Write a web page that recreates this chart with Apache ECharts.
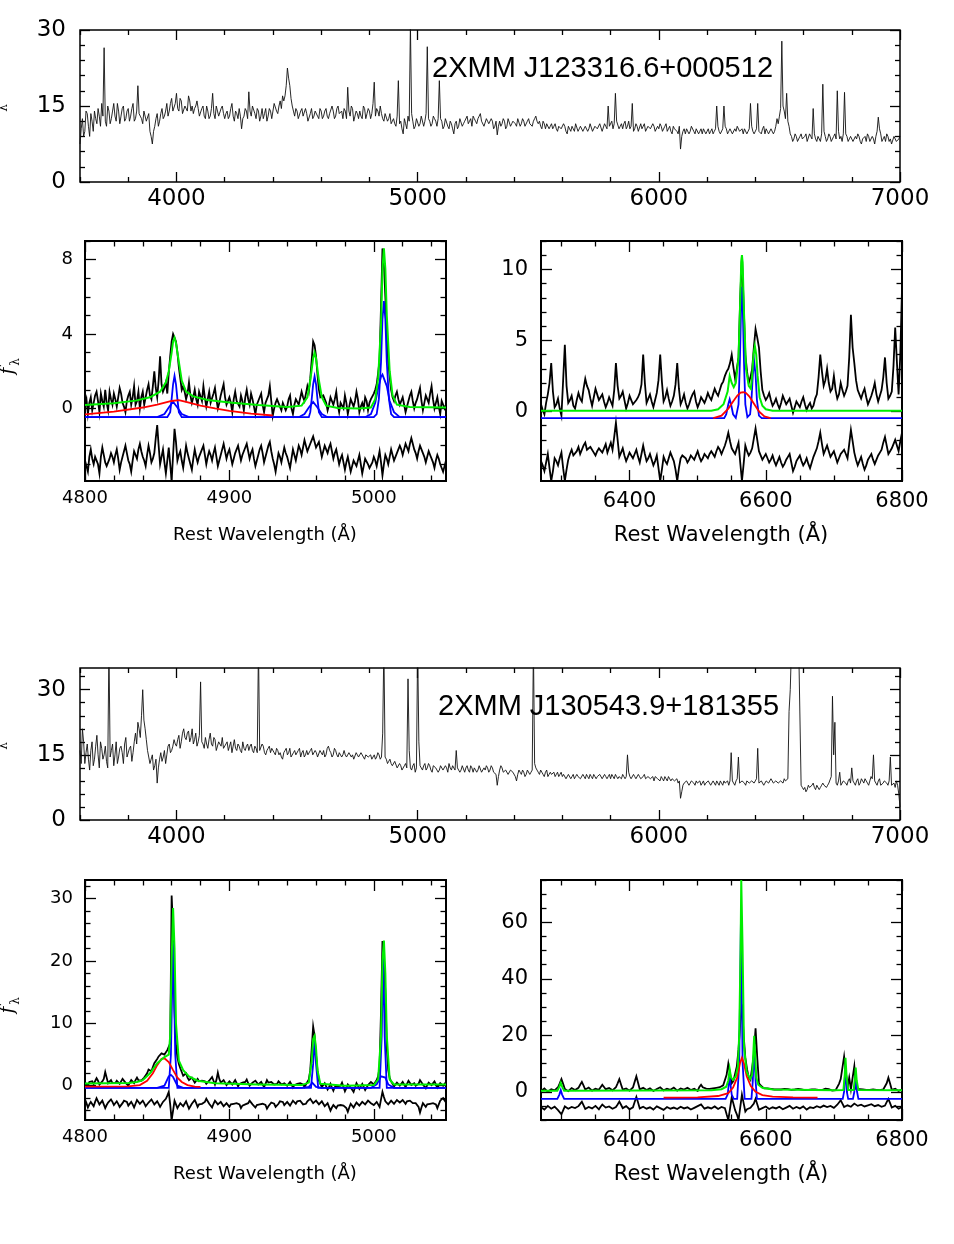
<!DOCTYPE html>
<html><head><meta charset="utf-8">
<script src="https://cdn.jsdelivr.net/npm/echarts@6/dist/echarts.min.js"></script>
<style>html,body{margin:0;padding:0;background:#fff}#c{width:954px;height:1244px}</style>
</head><body><div id="c"></div>
<script>
// ---------------- DATA ----------------
const title1 = '2XMM J123316.6+000512';
const title2 = '2XMM J130543.9+181355';
const xTitle = 'Rest Wavelength (Å)';

const wideXMajor = [4000, 5000, 6000, 7000];
const wideYMajor1 = [0, 15, 30];
const wideYMajor2 = [0, 15, 30];
const hbXMajor = [4800, 4900, 5000];
const hbYMajor1 = [0, 4, 8];
const hbYMajor2 = [0, 10, 20, 30];
const haXMajor = [6400, 6600, 6800];
const haYMajor1 = [0, 5, 10];
const haYMajor2 = [0, 20, 40, 60];

// full spectra: values at 3600,3610,...,7000 and at 3605,3615,...,6995
const WIDE_START = 3600, WIDE_STEP = 10;
const wideFlux1 = [
 7.5,12.5,10,13.5,9,12,14,11.5,13,15.5,
 26.5,11,14,12.5,15.5,12,14,13,15,12.5,
 14.5,13,15.5,12.5,19,13,11.5,14,12,10,
 7.5,11,13.5,12,14.5,13,15.5,14,16.5,14,
 17.5,14,16,13.5,15,17,14,13.5,15,14.5,
 13,15,12.5,14,13,17.5,12.5,14,13,15,
 12.5,14,13,15.5,12,13.5,14.5,10.5,13,14,
 17.8,13,15,12.5,14,13,12.5,14.5,13,14,
 14,15.5,13.5,16,17,17,22.5,19,15,13,
 14,12.5,14.5,13,13.5,12,14.5,13,14,12.5,
 14,13,14.5,12.5,13.5,14,13,15,13.5,12.5,
 14,18.7,13,14.5,13,13.5,14,12.5,14.5,13.5,
 14,13.5,19.7,14.5,13,13.5,12,13.5,12.5,11.5,
 12.5,11,20,12,9.5,11.5,13,31,12,11,
 12.5,11.5,13,12,26.7,12,11.5,12.5,11,20,
 12,11,12.5,10.5,11.5,9.5,12,11,12.5,11.5,
 12,11.5,12.5,13,12,12.5,13.5,12,11,12,
 11.5,12,11,9.3,12,11.5,12,11,12.5,11.5,
 12,11,12.5,11.5,12,11,12.5,11.5,12,13,
 11.5,11,12,10.5,11.5,11,10.5,11.5,10,11,
 10.5,11,9.5,10.5,11,10,11.5,10.5,11,10.5,
 11,10.5,11.5,10,11,10.5,11.5,10,11,15,
 11,10.5,17.5,12,11,10.5,12,11,10.5,15.5,
 10.5,11,10,10.5,11.5,10,11,10.5,11,10,
 10.5,11,10,11.5,10.5,10,11,10.5,9.5,6.5,
 10,9.5,10.5,10,11,9.5,10.5,10,9.5,10.5,
 10,9.5,10.5,10,15,10,9.5,15,10.5,10,
 10.5,9.5,10,11,10,9.5,10.5,10,15.5,10,
 9.5,15.5,10,10.5,9.5,10,9.5,10.5,10,12.5,
 13,27.8,14,17.5,11,9,8.5,9,8,9.5,
 8.5,9.5,8,9,14.5,8.5,9,8,19.3,9,
 8.5,9,8,9.5,18,8.5,8,17.7,9,8.5,
 9,8,8.5,9,7.5,8.5,8,9,8,8.5,
 9,12.8,9.5,8.5,8,9,8.5,7.5,8.5,8,
 9];
const wideMid1 = [
 10.5,9,14,11,13.5,10,12.5,14.5,11,13,
 12,15,11.5,14,13,15.5,11.5,14.5,12,14,
 12,14.5,12,14,13.5,12.5,14,12,13.5,9,
 10,12.5,11,13.5,12.5,14,13,15.5,14,15.5,
 14.5,16.5,13.5,15,14,16,15,14.5,16,13,
 14.5,13,15,12.5,14.5,13.5,15,13,14.5,13.5,
 13.5,12.5,14.5,13,14,12.5,13,12.5,14.5,12.5,
 14,15,13.5,14.5,12,14.5,13.5,12,14.5,12.5,
 15.5,14,15,14.5,16,19,20.5,16.5,14,14.5,
 12.5,14,13,14.5,12,13.5,12.5,14,13,14.5,
 12.5,14,13,13.5,15,12.5,14.5,13.5,14,14.5,
 12.5,14,15,12,14,12.5,13,15,12.5,14.5,
 12.5,15.5,13,14,15,12.5,13.5,12,13.5,12,
 11.5,13,11.5,10.5,12.5,10.5,12,13.5,10.5,12.5,
 11,13,11,13.5,12.5,11,13,12,12.5,12.5,
 10.5,12.5,11,12,10.5,11.5,10.5,12.5,11,12,
 13,12,11,12.5,11.5,13,12,11,12.5,11.5,
 12.5,10.5,12,11,11,12.5,10.5,12.5,11,12,
 11.5,12.5,11,12.5,11,12,11.5,11,12.5,12,
 12,10.5,11.5,11.5,10.5,11.5,11,10.5,11,10.5,
 11.5,10,11,10,10.5,11.5,10,11,10,11,
 10,11.5,10,11,10.5,11.5,10,11.5,10.5,11,
 12,11.5,12,10.5,11.5,11.5,10.5,12,11,10,
 11.5,10,11.5,11,10,11,10.5,11.5,10,11,
 11.5,10,11,10,11,9.5,10.5,10,11,9,
 10.5,10.5,9.5,11,10,10.5,9.5,10.5,10.5,9.5,
 10.5,10,9.5,10.5,11,9.5,10.5,11,9.5,10.5,
 9.5,10.5,11,10,10.5,10.5,9.5,10.5,11,9.5,
 10.5,10,9.5,11,10.5,9.5,10.5,9.5,11,11.5,
 14.5,15,12.5,12,9.5,8,9.5,8,9,8.5,
 9,8,9.5,8.5,9.5,8,8.5,9.5,10,8,
 9.5,8,9,8.5,10,9,9.5,9.5,8,9,
 8,9,9.5,8,8.5,9,9.5,8,9,7.5,
 10,10.5,8,9,9.5,8,7.5,9,8,8.5];
const wideFlux2 = [
 16,21,13,17.5,11.5,18,14,19.5,12,16.5,
 15,13.5,40,16,12.5,18,14.5,17,13,19,
 14.5,17,15.5,20,22.5,19,30,21,16,13,
 15,12.5,8.5,14,13.5,16,15,17.5,16,18.5,
 17,19.5,18,21,18.5,20.5,19,17.5,20,18,
 31.8,17.5,19,16.5,20,17,18.5,16,17.5,19,
 16.5,18,17,15.5,18.5,16,17,15.5,16.5,17,
 16,17.5,15.5,16.5,40,16,17,15,16.5,15.5,
 16.5,15,16,15.5,14,16,15,16.5,14.5,16,
 15,16.5,15.5,14.5,16,15,16.5,15,15.5,14.5,
 15.5,16,15,17,15.5,15,16,14.5,15.5,15,
 15,14.5,15.5,15,14,15,14.5,15.5,14,15,
 14.5,14,15,14.5,15,14.5,40,14,13.5,13,
 12.5,13.5,12,12.5,11.5,13,32.5,12,12.5,11,
 40,12.5,11.5,13,12,12.5,11,12.5,12,11.5,
 12.5,11.5,12,13,11.5,12.5,16,12,11.5,12.5,
 12,11.5,12.5,11,12,11.5,12.5,11,11.5,12,
 11.5,12,11,8,11.5,12,11,11.5,10.5,11.5,
 11,9,11.5,10.5,11,10.5,11.5,11,40,12,
 11,11.5,10.5,11,10,11,10.5,10,11,10.5,
 10,10.5,9.5,10.5,10,9.5,10.5,10,9.5,10,
 10.5,9.5,10,10.5,9.5,10,10.5,9.5,10,10,
 9.5,10,10.5,9.5,10,10.5,9.5,15,10,9.5,
 10,9.5,10,9.5,10.5,9.5,10,9.5,9,10,
 9.5,10,9,9.5,10,9,9.5,9,8.5,5,
 8,8.5,9,8.5,9,8,8.5,9,8.5,8,
 8.5,9,8,8.5,9,8,8.5,9,8.5,8,
 15.5,8.5,9,14.5,8.5,9,8,9,8.5,9,
 9,16.5,8.5,9,8.5,9,8.5,9,8.5,9,
 8.5,9,9.5,9,25,40,40,40,40,8,
 7,6.5,8,7.5,8.5,7,8,7.5,8.5,8,
 8,8.5,28.5,22.5,8,11,8.5,9,8,9.5,
 12,8.5,9,8,9.5,8.5,9,8,10,15,
 8.5,9,8,8.5,9,8,14.5,8,7.5,8,
 3];
const wideMid2 = [
 13,18,15.5,14,16,12.5,17,15,18,14,
 17,12,14.5,17.5,15,13,16.5,15.5,17.5,14.5,
 16.5,13.5,18,17.5,21,24,23,18.5,14.5,14,
 11.5,14,12,15.5,14.5,13,17,15.5,17,17.5,
 18.5,16.5,20,19,20,18,21,18.5,17,19.5,
 18,16.5,17.5,18.5,17.5,19,16,18,17,16.5,
 17.5,16,18,17,16.5,17.5,16,18,16,17.5,
 17,16,17,15.5,16,17.5,15.5,16,17,16.5,
 15.5,16.5,15,14.5,15.5,16.5,15.5,14.5,15.5,15,
 16,14.5,16,15,15,16,15,16,14.5,16,
 15,14.5,16.5,16,14.5,16.5,15,15.5,14.5,16,
 14.5,15.5,14.5,14,15.5,14.5,15.5,14.5,15,14.5,
 15,14.5,14,15.5,14,20,14.5,13,14,12.5,
 13.5,12,13,11.5,12.5,12,16,11.5,13,12,
 18,12,12.5,11.5,13,11.5,12.5,12,11,12.5,
 11.5,12.5,11,12,12.5,11.5,12,11,12.5,11,
 12.5,11,12,12,11,12.5,11,12,12.5,11,
 12.5,11,10.5,10,12.5,11,11.5,10.5,11.5,11,
 10,10.5,11,11.5,10,11.5,10.5,11.5,13,11.5,
 10.5,11,10,11.5,10.5,10.5,11,10.5,10,11,
 10.5,9.5,10.5,9.5,10.5,10,10,9.5,10.5,9.5,
 10,10.5,9.5,10,10,10.5,9.5,10.5,9.5,10.5,
 10.5,9.5,10,10,9.5,10,10,11,9.5,10.5,
 9.5,10.5,9.5,10,9.5,10,9.5,10,10,9.5,
 9,9.5,10,9,9.5,9.5,9,9.5,9,6.5,
 8.5,9,8,9,8.5,9,8.5,8,9,8.5,
 9,8,9,8,8.5,9,8,8.5,9,9,
 9,8,9.5,8.5,9,8.5,9,8.5,9,8.5,
 9.5,8.5,9,8,9,8.5,9.5,8.5,9,8.5,
 9,8.5,9,9.5,30,40,40,40,40,7.5,
 7.5,7,7.5,8,7.5,8,7,8,8,7.5,
 8.5,10,15,8.5,9,8,9,8.5,9,8.5,
 9,8,9.5,8.5,9,9.5,8.5,9,9.5,9,
 8,9.5,8,9,8.5,9,8,8.5,9,6];

// H-beta windows: values at 4800,4802,...,5050 and 4801,4803,...,5049
const HB_START = 4800, HB_STEP = 2;
const hbFlux1 = [
 0.2,-0.3,0.6,0.0,0.9,-0.2,0.4,1.0,-0.1,0.5,
 0.8,0.1,1.1,0.3,-0.2,0.7,0.2,1.2,0.4,0.0,
 0.9,0.3,1.3,0.5,2.0,0.6,2.8,0.9,1.4,1.9,
 3.6,4.1,3.0,1.6,1.2,0.5,1.4,0.3,1.0,0.2,
 0.8,1.2,0.1,0.9,0.4,1.1,0.0,0.7,1.3,0.2,
 0.6,-0.2,0.9,0.3,0.7,-0.1,1.0,0.2,0.5,-0.3,
 0.4,0.8,-0.2,0.5,1.2,-0.4,0.3,0.6,-0.1,0.4,
 0.1,0.7,-0.3,0.5,0.2,0.9,0.4,1.2,1.6,3.6,
 2.8,1.0,0.5,0.8,-0.1,0.6,0.2,0.9,-0.2,0.4,
 0.7,-0.3,0.5,0.1,0.9,-0.2,0.3,0.6,-0.1,0.5,
 0.8,1.3,2.6,8.6,6.0,2.5,1.0,0.4,0.9,0.2,
 0.6,-0.2,0.4,0.9,0.0,0.5,1.1,-0.1,0.7,0.3,
 1.2,0.0,0.6,-0.3,0.5,0.2];
const hbMid1 = [
 0.5,0.3,-0.1,0.7,0.4,0.8,0.1,0.3,0.9,0.2,
 0.5,0.6,0.8,0.1,0.4,0.9,0.6,0.2,0.9,0.6,
 0.2,1.0,0.7,1.2,1.1,1.5,1.3,1.1,0.8,2.8,
 4.0,3.6,2.2,1.0,0.9,0.8,0.7,0.6,0.5,0.9,
 0.4,0.6,0.5,0.3,0.8,0.5,0.3,1.0,0.6,0.4,
 0.3,0.5,0.4,0.1,0.4,0.6,0.5,0.8,0.1,0.2,
 0.6,0.2,0.3,0.7,0.4,0.0,0.5,0.1,0.3,-0.1,
 0.5,0.0,0.2,0.6,0.3,0.6,0.8,0.9,2.6,3.4,
 1.8,0.6,0.7,0.3,0.2,0.5,0.5,0.2,0.3,0.0,
 0.3,0.1,0.4,0.4,0.5,0.1,0.0,0.4,0.3,0.6,
 1.0,1.9,5.5,7.8,4.0,1.7,0.6,0.7,0.5,0.4,
 0.2,0.1,0.7,0.4,0.3,0.8,0.4,0.3,0.5,0.8,
 0.5,0.3,0.1,0.4,0.0];
const hbResid1 = [
 -2.8,-3.4,-2.2,-3.0,-2.5,-3.5,-2.1,-2.9,-3.2,-2.4,
 -2.9,-2.2,-3.3,-2.6,-2.0,-2.8,-3.4,-2.3,-2.7,-1.9,
 -2.6,-3.1,-2.0,-2.9,-2.4,-0.9,-3.0,-2.2,-3.5,-2.1,
 -3.9,-1.1,-2.8,-2.3,-3.2,-2.0,-2.7,-3.3,-2.2,-2.9,
 -2.4,-2.0,-3.0,-2.3,-2.8,-2.1,-3.1,-2.5,-1.9,-2.7,
 -2.2,-3.0,-2.4,-2.0,-2.8,-2.3,-1.9,-2.7,-2.2,-3.1,
 -2.5,-2.0,-2.9,-2.3,-1.8,-2.7,-3.4,-2.4,-2.9,-2.1,
 -2.6,-3.2,-2.2,-2.8,-2.0,-2.5,-1.7,-2.3,-1.9,-1.5,
 -2.1,-1.8,-2.6,-2.0,-2.4,-1.9,-2.7,-2.2,-3.0,-2.5,
 -3.3,-2.6,-3.4,-2.8,-3.1,-2.5,-3.5,-2.7,-3.0,-3.3,
 -2.6,-3.1,-2.3,-3.6,-2.5,-3.0,-2.2,-2.8,-2.4,-2.0,
 -2.5,-1.9,-2.3,-1.6,-2.2,-2.7,-2.0,-2.4,-2.9,-2.3,
 -2.7,-3.2,-2.5,-3.0,-3.4,-2.8];
const hbResMid1 = [
 -3.1,-2.6,-2.7,-2.6,-3.0,-2.6,-2.5,-3.1,-2.7,-2.6,
 -2.5,-2.7,-2.9,-2.3,-2.4,-3.0,-2.8,-2.5,-2.2,-2.3,
 -2.8,-2.5,-2.4,-2.7,-1.6,-2.0,-2.6,-2.9,-2.8,-3.0,
 -2.5,-1.8,-2.5,-2.8,-2.6,-2.4,-3.0,-2.7,-2.6,-2.6,
 -2.2,-2.5,-2.6,-2.5,-2.4,-2.6,-2.8,-2.2,-2.3,-2.4,
 -2.6,-2.7,-2.2,-2.4,-2.5,-2.1,-2.3,-2.4,-2.7,-2.8,
 -2.2,-2.4,-2.6,-2.0,-2.3,-3.0,-2.9,-2.6,-2.5,-2.4,
 -2.9,-2.7,-2.5,-2.4,-2.2,-2.1,-2.0,-2.1,-1.7,-1.8,
 -2.0,-2.2,-2.3,-2.2,-2.1,-2.3,-2.4,-2.6,-2.7,-2.9,
 -2.9,-3.0,-3.1,-2.9,-2.8,-3.0,-3.1,-2.8,-3.2,-2.9,
 -2.8,-2.7,-2.9,-3.0,-2.7,-2.6,-2.5,-2.6,-2.2,-2.2,
 -2.2,-2.1,-1.9,-1.9,-2.4,-2.3,-2.2,-2.6,-2.6,-2.5,
 -2.9,-2.8,-2.7,-3.2,-3.1];
const hbFlux2 = [
 0.5,0.0,0.9,0.3,1.2,0.2,0.7,2.2,0.4,0.9,
 0.1,0.8,0.3,1.1,0.5,0.0,0.9,0.4,1.3,0.6,
 1.0,1.6,2.6,2.3,3.6,4.3,5.0,5.4,5.2,6.0,
 30.5,12,4.5,2.8,1.6,2.0,0.9,1.3,0.5,1.1,
 0.6,1.0,0.3,0.8,1.4,0.2,2.1,0.5,0.9,0.1,
 0.7,0.2,0.9,-0.1,0.6,0.3,1.0,0.0,0.5,0.8,
 0.2,0.6,-0.2,0.9,0.3,0.5,-0.1,0.7,0.2,0.4,
 0.0,0.6,-0.3,0.4,0.1,0.7,-0.2,0.5,2.5,9.5,
 5.0,0.8,-0.2,0.4,-0.6,0.3,-0.8,0.1,-0.4,0.5,
 -0.9,0.2,-0.3,-1.0,0.4,-0.5,0.3,-0.7,0.1,0.6,
 0.2,0.9,3.0,23.2,15,2.5,0.7,-0.1,0.5,0.0,
 0.6,-0.2,0.8,0.1,0.4,-0.3,0.9,0.2,-0.4,0.5,
 0.1,0.7,-0.3,0.4,0.0,0.6];
const hbMid2 = [
 0.3,0.6,0.7,0.5,0.8,0.3,1.1,1.3,0.6,0.4,
 0.4,0.6,0.7,0.8,0.2,0.5,0.6,0.9,0.9,0.8,
 1.3,2.0,2.5,3.0,3.9,4.7,5.2,5.0,5.7,6.8,
 25,6.5,3.5,2.2,1.8,1.3,1.1,0.9,0.8,0.7,
 0.8,0.7,0.5,1.0,0.8,0.9,1.1,0.6,0.5,0.4,
 0.4,0.5,0.4,0.3,0.5,0.6,0.4,0.3,0.6,0.5,
 0.3,0.4,0.3,0.5,0.6,0.2,0.3,0.4,0.3,0.1,
 0.3,0.2,0.1,0.3,0.4,0.2,0.2,1.0,6.0,8.0,
 2.5,0.3,0.1,-0.1,-0.2,-0.3,-0.2,-0.1,0.0,-0.2,
 -0.4,0.0,-0.6,-0.3,0.0,-0.1,-0.2,-0.3,0.3,0.4,
 0.5,1.5,12,20,6,1.2,0.3,0.2,0.3,0.3,
 0.2,0.3,0.5,0.2,0.0,0.3,0.6,-0.1,0.1,0.3,
 0.4,0.2,0.0,0.2,0.3];
const hbResid2 = [
 -2.2,-3.5,-2.6,-3.3,-2.0,-3.0,-2.4,-3.6,-2.7,-2.2,
 -3.1,-2.5,-3.4,-2.8,-2.1,-3.2,-2.6,-3.5,-2.3,-2.9,
 -2.4,-3.3,-2.7,-2.2,-3.0,-2.5,-3.4,-2.6,-2.1,-1.0,
 -5.5,-2.4,-3.6,-2.8,-3.3,-2.5,-3.7,-2.9,-2.3,-3.4,
 -2.7,-3.2,-2.1,-2.9,-3.5,-2.4,-3.0,-2.6,-3.3,-2.8,
 -3.4,-2.7,-3.1,-2.5,-3.6,-2.9,-3.2,-2.4,-3.0,-3.5,
 -2.8,-3.3,-2.6,-3.7,-3.0,-2.5,-3.4,-2.9,-2.2,-3.1,
 -2.6,-3.2,-2.4,-2.9,-2.2,-2.7,-3.3,-2.5,-2.1,-2.8,
 -2.4,-3.0,-2.5,-3.3,-2.8,-4.0,-3.1,-3.6,-2.9,-3.4,
 -3.0,-4.2,-2.9,-3.5,-2.7,-3.2,-2.6,-3.0,-2.4,-2.8,
 -3.1,-2.6,-3.4,-1.0,-2.5,-3.0,-2.4,-2.9,-2.3,-2.7,
 -2.3,-2.9,-2.2,-2.6,-3.1,-2.5,-4.3,-2.8,-3.4,-2.7,
 -3.2,-2.5,-3.6,-2.4,-2.0,-2.7];
const hbResMid2 = [
 -2.8,-3.0,-2.9,-2.6,-2.5,-2.7,-3.0,-3.1,-2.4,-2.6,
 -2.8,-2.9,-3.1,-2.4,-2.6,-2.9,-3.0,-2.9,-2.6,-2.6,
 -2.8,-3.0,-2.4,-2.6,-2.7,-2.9,-3.0,-2.3,-1.6,-3.0,
 -4.0,-3.0,-3.2,-3.0,-2.9,-3.1,-3.3,-2.6,-2.8,-3.0,
 -2.9,-2.6,-2.5,-3.2,-2.9,-2.7,-2.8,-2.9,-3.0,-3.1,
 -3.0,-2.9,-2.8,-3.0,-3.2,-3.0,-2.8,-2.7,-3.2,-3.1,
 -3.0,-2.9,-3.1,-3.3,-2.7,-2.9,-3.1,-2.5,-2.6,-2.8,
 -2.9,-2.8,-2.6,-2.5,-2.4,-3.0,-2.9,-2.3,-2.4,-2.6,
 -2.7,-2.7,-2.9,-3.0,-3.4,-3.5,-3.3,-3.2,-3.1,-3.2,
 -3.6,-3.5,-3.2,-3.1,-2.9,-2.9,-2.8,-2.7,-2.6,-2.9,
 -2.8,-3.0,-2.2,-1.8,-2.7,-2.7,-2.6,-2.6,-2.5,-2.5,
 -2.6,-2.5,-2.4,-2.8,-2.8,-3.4,-3.5,-3.1,-3.0,-2.9,
 -2.8,-3.0,-3.0,-2.2,-2.3];

// H-alpha windows: values at 6270,6275,...,6800 and 6272.5,6277.5,...,6797.5
const HA_START = 6270, HA_STEP = 5;
const haFlux1 = [
 0.5,-0.2,1.2,3.4,0.3,0.9,-0.3,4.7,0.6,1.1,
 0.2,1.3,0.7,2.3,1.5,0.4,1.6,0.8,1.2,0.3,
 1.0,0.4,3.4,0.9,1.4,0.2,1.1,0.5,0.8,1.3,
 4.0,0.6,1.2,0.3,1.3,4.0,0.7,1.5,0.4,1.1,
 3.4,0.5,1.2,0.2,0.9,1.4,0.3,1.0,0.6,1.3,
 0.8,1.6,1.1,1.9,2.5,3.0,4.0,2.3,3.8,11.0,
 4.0,2.0,3.0,5.8,4.5,1.5,0.8,1.3,0.4,0.9,
 0.2,1.1,0.5,0.9,-0.1,0.7,0.3,1.0,0.1,0.6,
 0.4,1.2,4.0,1.8,3.0,1.4,2.5,0.9,2.0,1.1,
 1.8,6.8,3.4,1.5,0.9,1.6,0.5,1.1,2.0,0.7,
 1.5,3.8,0.9,1.4,5.9,1.2,8.6];
const haMid1 = [
 0.1,0.6,2.0,1.4,0.5,0.2,2.2,1.8,0.8,0.4,
 0.8,0.9,1.6,1.8,0.9,1.0,1.2,1.0,0.7,0.6,
 0.7,1.5,1.8,1.1,0.8,0.6,0.8,0.6,1.0,1.9,
 2.0,0.9,0.7,0.8,2.2,2.1,1.0,0.9,0.7,1.9,
 1.6,0.8,0.6,0.5,1.2,0.7,0.6,0.8,0.9,1.0,
 1.2,1.3,1.5,2.1,2.8,3.4,3.1,3.0,8,7.5,
 2.8,2.4,4.5,5.2,2.8,1.1,1.0,0.8,0.6,0.5,
 0.6,0.8,0.7,0.4,0.3,0.6,0.7,0.5,0.4,0.2,
 0.9,2.4,2.8,2.2,2.0,1.6,1.5,1.2,1.5,1.4,
 3.8,4.5,2.2,1.2,1.3,1.0,0.8,1.5,1.2,1.1,
 2.4,2.0,1.1,3.2,3.5,4.0];
const haResid1 = [
 -3.5,-4.2,-3.0,-4.9,-3.3,-3.8,-2.9,-4.9,-3.4,-2.7,
 -3.2,-2.5,-3.0,-2.2,-2.8,-2.4,-3.1,-2.6,-2.9,-2.3,
 -3.0,-2.7,-0.8,-3.2,-2.6,-3.5,-2.9,-3.3,-2.7,-3.6,
 -2.4,-3.5,-3.0,-3.8,-3.1,-4.9,-3.2,-3.7,-2.9,-3.5,
 -4.9,-3.3,-3.0,-3.6,-3.1,-3.4,-2.8,-3.5,-3.0,-3.3,
 -2.8,-3.2,-2.5,-3.0,-2.4,-1.5,-2.6,-3.0,-2.2,-4.9,
 -2.4,-3.1,-2.6,-1.2,-2.8,-3.4,-3.0,-3.6,-3.1,-3.8,
 -3.2,-3.9,-3.4,-3.0,-4.2,-3.5,-3.1,-3.8,-3.3,-4.0,
 -3.2,-2.6,-1.5,-3.0,-2.4,-3.2,-2.8,-3.6,-3.0,-2.7,
 -3.3,-1.3,-2.9,-3.8,-3.2,-4.1,-3.4,-3.0,-3.7,-3.1,
 -2.7,-1.8,-3.0,-2.6,-2.0,-2.8,-1.5];
const haResMid1 = [
 -3.8,-3.6,-4.0,-4.2,-3.5,-3.3,-4.0,-4.1,-3.0,-3.1,
 -2.8,-3.0,-2.4,-2.7,-2.5,-2.9,-2.8,-2.5,-2.6,-2.9,
 -2.2,-1.8,-2.0,-2.9,-3.1,-3.2,-3.1,-3.0,-3.2,-3.0,
 -3.0,-3.3,-3.4,-3.5,-4.0,-4.1,-3.5,-3.3,-3.2,-4.1,
 -4.0,-3.1,-3.3,-3.4,-3.2,-3.1,-3.2,-3.3,-3.1,-3.0,
 -3.0,-2.8,-2.7,-2.7,-2.0,-2.1,-2.8,-2.6,-3.6,-3.7,
 -2.8,-2.9,-1.9,-2.0,-3.1,-3.2,-3.3,-3.4,-3.5,-3.5,
 -3.6,-3.7,-3.2,-3.6,-3.9,-3.3,-3.5,-3.6,-3.7,-3.6,
 -2.9,-2.1,-2.3,-2.7,-2.8,-3.0,-3.2,-3.3,-2.9,-3.0,
 -2.3,-2.1,-3.4,-3.5,-3.7,-3.8,-3.2,-3.4,-3.4,-2.9,
 -2.2,-2.4,-2.8,-2.3,-2.4,-2.1];
const haFlux2 = [
 0.3,1.2,0.0,0.9,0.5,1.6,4.5,1.0,0.2,1.3,
 0.6,1.4,3.5,0.8,1.5,0.4,1.1,0.7,2.5,0.9,
 1.3,0.5,1.6,4.5,0.8,1.2,0.4,1.5,5.5,0.9,
 1.4,0.6,1.2,0.3,1.0,1.6,0.5,1.1,0.7,1.5,
 0.4,1.2,0.8,1.4,0.6,1.1,0.3,2.5,0.9,1.3,
 0.7,1.6,1.2,2.0,2.5,10,3.0,4.5,15,31,
 12,5,3.5,22.5,3,1.5,0.8,1.6,0.5,1.2,
 0.4,1.3,0.7,1.1,0.2,1.4,0.6,1.0,0.3,1.2,
 0.5,1.1,0.3,0.9,1.3,0.6,0.2,1.0,4.5,12.5,
 1.5,0.9,9.0,1.2,0.6,1.0,0.3,1.1,0.5,0.9,
 0.4,1.2,5.0,0.7,1.1,0.3,0.8];
const haMid2 = [
 0.8,0.6,0.5,0.7,1.1,3.0,2.8,0.6,0.7,0.9,
 1.0,2.5,2.2,1.2,0.9,0.8,0.9,1.6,1.7,1.1,
 0.9,1.1,3.0,2.6,1.0,0.8,1.0,3.5,3.2,1.1,
 1.0,0.9,0.8,0.7,1.3,1.0,0.8,0.9,1.1,0.9,
 0.8,1.0,1.1,0.9,0.7,1.4,1.7,1.6,1.1,1.0,
 1.2,1.4,1.6,2.3,6.0,6.5,3.8,9.0,24,20,
 8,4.2,13,12,2.2,1.2,1.2,1.0,0.8,0.8,
 0.8,1.0,0.9,0.7,0.8,1.0,0.8,0.6,0.7,0.8,
 0.8,0.7,0.6,1.1,0.9,0.4,0.6,2.8,8.5,7.0,
 5.0,5.0,1.0,0.9,0.8,0.7,0.7,0.8,0.7,0.6,
 0.8,3.0,2.9,0.9,0.7,0.5];
const haResid2 = [
 -5.5,-6.3,-5.0,-6.0,-5.3,-6.5,-8,-5.2,-6.0,-5.4,
 -5.8,-5.1,-3.5,-6.1,-5.4,-5.9,-5.0,-6.2,-4.5,-5.6,
 -5.2,-6.0,-5.4,-3.5,-5.8,-5.1,-6.2,-5.5,-1.8,-5.9,
 -5.3,-6.0,-5.5,-6.3,-5.2,-5.8,-6.4,-5.4,-6.0,-5.6,
 -6.1,-5.3,-5.9,-5.5,-6.3,-5.7,-5.1,-4.5,-6.0,-5.5,
 -5.9,-5.2,-6.1,-5.4,-5.8,-10,-2.0,-6.5,-10,-1.0,
 -7,-5.5,-6.0,-2.5,-6.4,-5.8,-5.2,-6.1,-5.5,-5.9,
 -5.3,-6.2,-5.6,-5.0,-6.0,-5.4,-5.9,-5.2,-6.3,-5.5,
 -5.8,-5.1,-5.6,-4.9,-5.4,-5.0,-5.7,-4.6,-3.0,-5.4,
 -4.8,-5.3,-4.2,-5.0,-4.6,-5.2,-4.8,-4.4,-5.1,-4.7,
 -5.3,-4.9,-2.5,-5.6,-5.0,-6.0,-5.4];
const haResMid2 = [
 -5.9,-5.6,-5.5,-5.6,-5.9,-7.0,-6.6,-5.6,-5.7,-5.6,
 -5.4,-4.3,-4.8,-5.7,-5.6,-5.4,-5.6,-5.3,-5.0,-5.4,
 -5.6,-5.7,-4.5,-4.6,-5.4,-5.6,-5.8,-3.6,-3.8,-5.6,
 -5.6,-5.7,-5.9,-5.7,-5.5,-6.1,-5.9,-5.7,-5.8,-5.8,
 -5.7,-5.6,-5.7,-5.9,-6.0,-5.4,-4.8,-5.2,-5.7,-5.7,
 -5.5,-5.6,-5.7,-5.6,-8,-6,-4.2,-8,-5.5,-4,
 -6.2,-5.7,-4.2,-4.4,-6.1,-5.5,-5.6,-5.8,-5.7,-5.6,
 -5.7,-5.9,-5.3,-5.5,-5.7,-5.6,-5.5,-5.7,-5.9,-5.6,
 -5.4,-5.3,-5.2,-5.1,-5.2,-5.3,-5.1,-3.8,-4.2,-5.1,
 -5.0,-4.7,-4.6,-4.8,-4.9,-5.0,-4.6,-4.7,-4.9,-5.0,
 -5.1,-3.7,-4.0,-5.3,-5.5,-5.7];

// fitted components [wavelength, flux]
const fit1HbGreen = [[4800,0.18],[4820,0.28],[4835,0.42],[4845,0.6],[4852,0.9],[4856,1.4],[4858,2.0],[4860,3.0],[4861,3.6],[4862,3.8],[4863,3.5],[4865,2.5],[4867,1.5],[4870,0.9],[4875,0.65],[4885,0.45],[4900,0.32],[4920,0.18],[4940,0.08],[4950,0.15],[4954,0.6],[4956,1.5],[4958,2.7],[4959,3.0],[4960,2.7],[4962,1.5],[4964,0.6],[4967,0.15],[4975,0.02],[4990,0.0],[4998,0.05],[5001,0.5],[5003,1.6],[5005,4.5],[5006,7.5],[5007,8.6],[5008,7.5],[5009,5.0],[5011,2.0],[5013,0.7],[5016,0.2],[5025,0.08],[5050,0.05]];
const fit1HbRed = [[4800,-0.32],[4820,-0.17],[4840,0.05],[4850,0.2],[4856,0.32],[4860,0.4],[4865,0.45],[4870,0.35],[4880,0.15],[4890,0.0],[4900,-0.13],[4915,-0.28],[4930,-0.38]];
const fit1HbBlueN = [[4800,-0.47],[4857,-0.47],[4859,-0.2],[4860,0.5],[4861,1.3],[4862,1.75],[4863,1.3],[4864,0.5],[4865,-0.2],[4867,-0.47],[4955,-0.47],[4956,-0.2],[4957,0.5],[4958,1.3],[4959,1.73],[4960,1.3],[4961,0.5],[4962,-0.2],[4964,-0.47],[5000,-0.47],[5002,-0.3],[5003.5,0.5],[5005,2.5],[5006,4.8],[5007,5.77],[5008,4.8],[5009,2.5],[5010.5,0.5],[5012,-0.3],[5014,-0.47],[5050,-0.47]];
const fit1HbBlueB = [[4800,-0.47],[4850,-0.47],[4855,-0.3],[4858,0.05],[4861,0.36],[4864,0.05],[4867,-0.3],[4872,-0.47],[4948,-0.47],[4952,-0.3],[4955,0.05],[4958,0.35],[4961,0.05],[4964,-0.3],[4968,-0.47],[4994,-0.47],[4998,-0.3],[5001,0.3],[5003,1.1],[5005,1.7],[5006,1.82],[5007,1.75],[5009,1.2],[5011,0.4],[5014,-0.2],[5018,-0.47],[5050,-0.47]];

const fit1HaGreen = [[6270,0.05],[6520,0.05],[6530,0.15],[6538,0.5],[6544,1.4],[6547,2.5],[6550,2.0],[6553,1.7],[6556,2.0],[6560,3.8],[6562,7],[6564,10.5],[6565,11.0],[6566,10.5],[6568,7],[6571,3.0],[6575,1.8],[6578,1.6],[6580,2.5],[6582,4.0],[6584,4.6],[6586,4.0],[6588,2.5],[6591,1.0],[6595,0.4],[6600,0.15],[6610,0.05],[6800,0.05]];
const fit1HaRed = [[6523,-0.47],[6535,-0.3],[6545,0.2],[6552,0.7],[6558,1.1],[6563,1.32],[6567,1.35],[6571,1.3],[6576,1.05],[6582,0.6],[6590,0.0],[6598,-0.35],[6607,-0.47]];
const fit1HaBlue = [[6270,-0.47],[6539,-0.47],[6542,-0.2],[6545,0.5],[6547,0.86],[6549,0.5],[6552,-0.2],[6556,-0.45],[6560,0.5],[6562,3.5],[6564,7.8],[6565,8.77],[6566,7.8],[6568,3.5],[6570,0.5],[6573,-0.4],[6575,-0.45],[6577,-0.2],[6579,0.8],[6581,2.6],[6583,3.5],[6585,2.6],[6587,0.8],[6590,-0.3],[6594,-0.47],[6800,-0.47]];

const fit2HbGreen = [[4800,0.35],[4830,0.45],[4836,0.6],[4840,0.9],[4845,2.0],[4850,3.6],[4855,4.6],[4858,5.0],[4859,8],[4860,20],[4861,28.5],[4862,22],[4863,10],[4865,4.0],[4868,2.5],[4872,1.5],[4878,0.8],[4890,0.4],[4920,0.2],[4950,0.1],[4955,0.5],[4957,4],[4958,7.5],[4959,8.0],[4960,6],[4961,2.5],[4963,0.3],[4980,0.0],[5000,0.1],[5003,1.0],[5005,8],[5006,20],[5007,23.3],[5008,18],[5009,8],[5011,1.0],[5014,0.2],[5050,0.2]];
const fit2HbRed = [[4800,-0.15],[4830,-0.1],[4838,0.1],[4843,0.8],[4847,2.0],[4850,3.3],[4853,4.3],[4855,4.4],[4858,3.8],[4861,2.5],[4864,1.3],[4867,0.6],[4871,0.1],[4876,-0.15],[4880,-0.2]];
const fit2HbBlueN = [[4800,-0.35],[4858,-0.35],[4859.5,5],[4861,23],[4862.5,5],[4864,-0.35],[4956.5,-0.35],[4958,3.5],[4959,7.6],[4960,3.5],[4961.5,-0.35],[5004,-0.35],[5005.5,8],[5006.5,21.5],[5007.5,8],[5009,-0.35],[5050,-0.35]];
const fit2HbBlueB = [[4800,-0.35],[4850,-0.35],[4855,0.0],[4858,1.5],[4859.5,1.75],[4861,1.4],[4864,0.0],[4868,-0.35],[4950,-0.35],[4955,-0.2],[4957.5,0.45],[4960,-0.2],[4964,-0.35],[4998,-0.35],[5002,0.2],[5005,1.5],[5006,1.6],[5008,1.3],[5010,0.2],[5014,-0.35],[5050,-0.35]];

const fit2HaGreen = [[6270,0.4],[6294,0.4],[6297,1.8],[6299,3.2],[6301,1.8],[6304,0.4],[6520,0.5],[6535,0.9],[6542,1.8],[6545,4],[6547,8],[6549,5],[6552,4.2],[6556,5.5],[6559,9],[6561,20],[6563,50],[6564,75],[6565,75],[6566,50],[6568,16],[6572,7],[6577,4.5],[6580,6],[6582,15],[6583,19.8],[6584,15],[6586,5],[6589,2.5],[6595,1.4],[6610,0.8],[6700,0.5],[6714,0.6],[6716,6],[6717,12],[6718.5,6],[6721,0.6],[6729,0.6],[6731,5],[6732,8.6],[6733.5,4],[6736,0.6],[6800,0.5]];
const fit2HaRed = [[6450,-2.1],[6500,-2.0],[6530,-1.5],[6545,-0.5],[6552,1.5],[6558,5],[6562,10],[6565,12],[6568,10],[6572,5.5],[6578,2.0],[6585,0.0],[6595,-1.2],[6610,-1.7],[6640,-2.0],[6676,-2.1]];
const fit2HaBlue = [[6270,-2.5],[6294,-2.5],[6297,-1],[6299,0.6],[6301,-1],[6304,-2.5],[6541,-2.5],[6544,-1],[6547,5.2],[6550,-1],[6553,-2.5],[6558,-2.5],[6561,10],[6563.5,60],[6566,10],[6569,-2.5],[6579,-2.5],[6581,4],[6583,16],[6585,4],[6587,-2.5],[6713,-2.5],[6715,0],[6717,9],[6719,0],[6721,-2.5],[6728,-2.5],[6730,0],[6732,5.6],[6734,0],[6736,-2.5],[6800,-2.5]];

// ---------------- BUILD ----------------
const FONT = 'DejaVu Sans';
const BLACK = '#000', GREEN = '#00ee00', RED = '#ff0000', BLUE = '#0000ff';
function seq(start, step, vals) { return vals.map((v, i) => [start + i * step, v]); }
function spec(start, step, vals, mids) {
  return seq(start, step, vals).concat(seq(start + step / 2, step, mids)).sort((a, b) => a[0] - b[0]);
}
function minors(min, max, step, majors) {
  const out = [];
  for (let v = Math.ceil(min / step) * step; v <= max + 1e-9; v += step) {
    const r = Math.round(v * 1000) / 1000;
    if (!majors.includes(r)) out.push(r);
  }
  return out;
}

const panels = [
  { rect: [80, 30, 820, 152], x: [3600, 7000], xMaj: wideXMajor, xStep: 200, y: [0, 30], yMaj: wideYMajor1, yStep: 3,
    fs: 23, xm: 6, ym: 14, frame: 1.5, maj: 10, min: 5,
    series: [[spec(WIDE_START, WIDE_STEP, wideFlux1, wideMid1), '#111', 0.9]] },
  { rect: [85, 241, 361, 240], x: [4800, 5050], xMaj: hbXMajor, xStep: 20, y: [-3.9, 9], yMaj: hbYMajor1, yStep: 1,
    fs: 18, xm: 8, ym: 12, frame: 2, maj: 11, min: 5.5,
    series: [[spec(HB_START, HB_STEP, hbFlux1, hbMid1), BLACK, 1.8], [spec(HB_START, HB_STEP, hbResid1, hbResMid1), BLACK, 1.8],
             [fit1HbBlueB, BLUE, 1.8], [fit1HbBlueN, BLUE, 1.8], [fit1HbRed, RED, 1.8], [fit1HbGreen, GREEN, 2]] },
  { rect: [541, 241, 361, 240], x: [6270, 6800], xMaj: haXMajor, xStep: 50, y: [-4.9, 12], yMaj: haYMajor1, yStep: 1,
    fs: 21, xm: 10, ym: 13, frame: 2, maj: 11, min: 5.5,
    series: [[spec(HA_START, HA_STEP, haFlux1, haMid1), BLACK, 1.8], [spec(HA_START, HA_STEP, haResid1, haResMid1), BLACK, 1.8],
             [fit1HaBlue, BLUE, 1.8], [fit1HaRed, RED, 1.8], [fit1HaGreen, GREEN, 2]] },
  { rect: [80, 668, 820, 152], x: [3600, 7000], xMaj: wideXMajor, xStep: 200, y: [0, 35], yMaj: wideYMajor2, yStep: 3,
    fs: 23, xm: 6, ym: 14, frame: 1.5, maj: 10, min: 5,
    series: [[spec(WIDE_START, WIDE_STEP, wideFlux2, wideMid2), '#111', 0.9]] },
  { rect: [85, 880, 361, 240], x: [4800, 5050], xMaj: hbXMajor, xStep: 20, y: [-5.5, 33], yMaj: hbYMajor2, yStep: 2,
    fs: 18, xm: 8, ym: 12, frame: 2, maj: 11, min: 5.5,
    series: [[spec(HB_START, HB_STEP, hbFlux2, hbMid2), BLACK, 1.8], [spec(HB_START, HB_STEP, hbResid2, hbResMid2), BLACK, 1.8],
             [fit2HbBlueB, BLUE, 1.8], [fit2HbBlueN, BLUE, 1.8], [fit2HbRed, RED, 1.8], [fit2HbGreen, GREEN, 2]] },
  { rect: [541, 880, 361, 240], x: [6270, 6800], xMaj: haXMajor, xStep: 50, y: [-10, 75], yMaj: haYMajor2, yStep: 5,
    fs: 21, xm: 10, ym: 13, frame: 2, maj: 11, min: 5.5,
    series: [[spec(HA_START, HA_STEP, haFlux2, haMid2), BLACK, 1.8], [spec(HA_START, HA_STEP, haResid2, haResMid2), BLACK, 1.8],
             [fit2HaBlue, BLUE, 1.8], [fit2HaRed, RED, 1.8], [fit2HaGreen, GREEN, 2]] }
];

const grid = [], xAxis = [], yAxis = [], series = [];
function mkAxis(gi, range, pos, vals, len, labels, p, dim) {
  return {
    gridIndex: gi, type: 'value', min: range[0], max: range[1], position: pos,
    axisLine: { show: false, onZero: false },
    splitLine: { show: false }, splitArea: { show: false }, minorTick: { show: false },
    axisTick: { show: true, inside: true, length: len, customValues: vals, lineStyle: { color: '#000', width: 1.3 } },
    axisLabel: { show: labels, customValues: vals, margin: dim === 'x' ? p.xm : p.ym, fontSize: p.fs,
                 fontFamily: FONT, color: '#000', formatter: v => String(v) },
    axisPointer: { show: false }, silent: true
  };
}
panels.forEach((p, gi) => {
  grid.push({ left: p.rect[0], top: p.rect[1], width: p.rect[2], height: p.rect[3], show: true,
              borderColor: '#000', borderWidth: p.frame, backgroundColor: 'transparent', containLabel: false });
  const xMin = minors(p.x[0], p.x[1], p.xStep, p.xMaj);
  const yMin = minors(p.y[0], p.y[1], p.yStep, p.yMaj);
  const xi = xAxis.length, yi = yAxis.length;
  xAxis.push(mkAxis(gi, p.x, 'bottom', p.xMaj, p.maj, true, p, 'x'));
  xAxis.push(mkAxis(gi, p.x, 'bottom', xMin, p.min, false, p, 'x'));
  xAxis.push(mkAxis(gi, p.x, 'top', p.xMaj, p.maj, false, p, 'x'));
  xAxis.push(mkAxis(gi, p.x, 'top', xMin, p.min, false, p, 'x'));
  yAxis.push(mkAxis(gi, p.y, 'left', p.yMaj, p.maj, true, p, 'y'));
  yAxis.push(mkAxis(gi, p.y, 'left', yMin, p.min, false, p, 'y'));
  yAxis.push(mkAxis(gi, p.y, 'right', p.yMaj, p.maj, false, p, 'y'));
  yAxis.push(mkAxis(gi, p.y, 'right', yMin, p.min, false, p, 'y'));
  p.series.forEach((s, k) => {
    series.push({ type: 'line', xAxisIndex: xi, yAxisIndex: yi, data: s[0], symbol: 'none', showSymbol: false,
                  clip: true, silent: true, z: 2 + k,
                  lineStyle: { color: s[1], width: s[2], join: 'miter' } });
  });
});

function txt(x, y, text, size, family, extra) {
  return { type: 'text', x: x, y: y, z: 100, silent: true,
    style: Object.assign({ text: text, fontSize: size, fontFamily: family, fill: '#000',
      align: 'center', verticalAlign: 'middle', textAlign: 'center', textVerticalAlign: 'middle' }, extra || {}) };
}
function rot(x, y, text, size, italic) {
  const t = txt(x, y, text, size, 'DejaVu Serif', italic ? { fontStyle: 'italic' } : {});
  t.rotation = Math.PI / 2;
  return t;
}
const graphic = [
  txt(432, 69, title1, 29, 'Liberation Sans', { align: 'left', textAlign: 'left' }),
  txt(438, 707, title2, 29, 'Liberation Sans', { align: 'left', textAlign: 'left' }),
  txt(265, 535, xTitle, 18, FONT), txt(721, 536, xTitle, 21, FONT),
  txt(265, 1174, xTitle, 18, FONT), txt(721, 1175, xTitle, 21, FONT),
  rot(4, 108, 'λ', 12), rot(4, 746, 'λ', 12),
  rot(8, 371, 'f', 18, true), rot(16, 362, 'λ', 12),
  rot(8, 1010, 'f', 18, true), rot(16, 1001, 'λ', 12)
];

const chart = echarts.init(document.getElementById('c'), null, { renderer: 'canvas', width: 954, height: 1244 });
chart.setOption({ animation: false, backgroundColor: '#fff', grid, xAxis, yAxis, series, graphic });
</script></body></html>
